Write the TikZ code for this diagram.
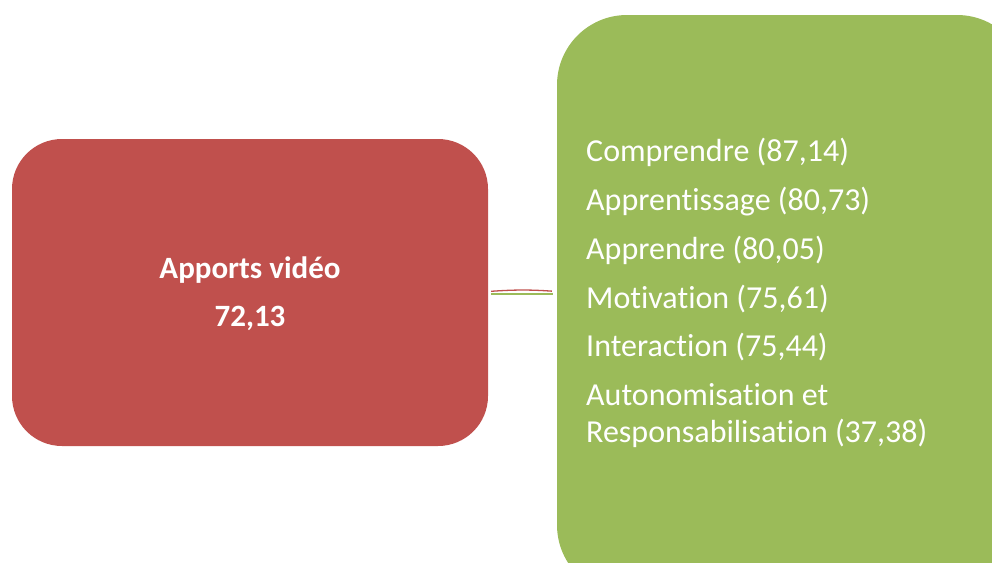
\documentclass[tikz,border=0pt]{standalone}
\usepackage{fontspec}
\setmainfont{Carlito}[Ligatures=NoCommon]
\usepackage{xcolor}
\usetikzlibrary{positioning}
\definecolor{rouge}{HTML}{C0504D}
\definecolor{vert}{HTML}{9BBB59}

\begin{document}
\begin{tikzpicture}[
  x=1pt, y=-1pt,
  bloc/.style={rounded corners=#1, inner sep=0pt},
  liste/.style={align=left, text=white, inner sep=0pt,
                font=\fontsize{32}{37}\selectfont},
  titre/.style={align=center, text=white,
                font=\fontsize{31}{48}\selectfont\bfseries}
]
  \useasboundingbox (0,0) rectangle (992,562);
  \clip (0,0) rectangle (992,562);

  \node[bloc=50pt, fill=rouge, minimum width=476pt, minimum height=307pt] (apports) at (250,292.5) {};
  \node[titre] (titre) at (250,294) {Apports vidéo\\72,13};

  \node[bloc=70pt, fill=vert, minimum width=470pt, minimum height=580pt] (themes) at (792,305) {};
  \node[liste, anchor=north west] (items) at (586,138) {%
    Comprendre (87,14)\\[11.8pt]
    Apprentissage (80,73)\\[11.8pt]
    Apprendre (80,05)\\[11.8pt]
    Motivation (75,61)\\[11.8pt]
    Interaction (75,44)\\[11.8pt]
    Autonomisation et\\
    Responsabilisation (37,38)};

  % lien entre les deux blocs
  \draw[rouge, line width=1.3pt, shorten <=3pt, shorten >=5pt]
    ([yshift=1pt]apports.east) to[bend left=4] ([yshift=1pt]themes.west |- apports.east);
  \draw[vert, line width=1.3pt, shorten <=3pt, shorten >=4pt]
    ([yshift=-1.5pt]apports.east) -- ([yshift=-1.5pt]themes.west |- apports.east);
\end{tikzpicture}
\end{document}
